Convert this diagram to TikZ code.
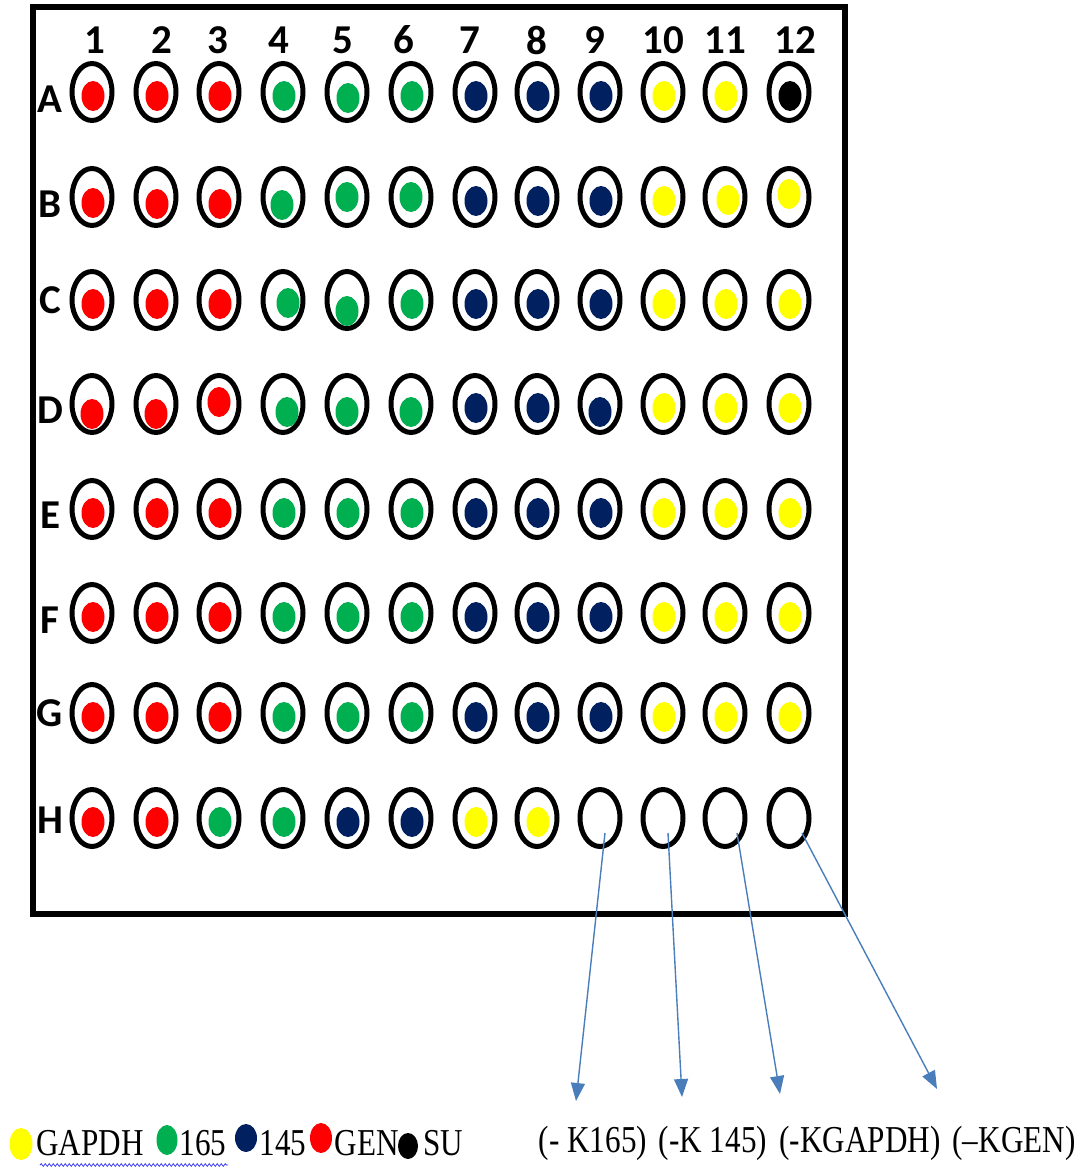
\documentclass[tikz,border=0pt]{standalone}
\usepackage{fontspec}
\setmainfont{Liberation Serif}
\newfontfamily\labfont{Carlito}
\usetikzlibrary{shapes.geometric,arrows.meta,calc,decorations.pathmorphing}
\definecolor{wred}{HTML}{FF0000}
\definecolor{wgrn}{HTML}{00B050}
\definecolor{wnav}{HTML}{002060}
\definecolor{wyel}{HTML}{FFFF00}
\definecolor{wblk}{HTML}{000000}
\definecolor{arrblue}{HTML}{4A7EBB}
\definecolor{squig}{HTML}{3A3AF0}
\newcommand\setoff[3]{\expandafter\def\csname ox#1\endcsname{#2}\expandafter\def\csname oy#1\endcsname{#3}}
\setoff{A5}{1}{6}\setoff{B1}{1}{6}\setoff{B2}{1}{7}\setoff{B3}{1}{7}\setoff{B4}{-1}{8}
\setoff{B5}{0}{0}\setoff{B6}{0}{0}\setoff{B11}{3}{3}\setoff{B12}{0}{-3}
\setoff{C4}{5}{3}\setoff{C5}{0}{11}\setoff{D1}{0}{10}\setoff{D2}{0}{10}\setoff{D3}{0}{-2}
\setoff{D4}{4}{8}\setoff{D5}{0}{8}\setoff{D6}{0}{8}\setoff{D9}{0}{8}
\newcommand\sq[1]{\scalebox{0.82}[1]{#1}}
\begin{document}
\begin{tikzpicture}[x=1pt,y=-1pt,
  ring/.style={ellipse,draw=black,line width=5pt,minimum width=40pt,minimum height=57pt,inner sep=0pt},
  dot/.style={ellipse,minimum width=23pt,minimum height=30pt,inner sep=0pt},
  collab/.style={font=\labfont\bfseries\fontsize{41}{41}\selectfont,inner sep=0pt},
  legtext/.style={font=\fontsize{38}{38}\selectfont,inner sep=0pt},
  arr/.style={draw=arrblue,line width=1.4pt,-{Triangle[length=18pt,width=14pt]}}]
\useasboundingbox (0,0) rectangle (1088,1171);
% frame
\draw[line width=6.5pt] (33,7) rectangle (845,914);
% column labels
\foreach \xx [count=\c] in {95,162,218,279,343,404,470,537,595,663,725,795}
  \node[collab] (col\c) at (\xx,40) {\c};
% rows
\foreach \r/\y/\ly/\cols in {
  A/92/99/{wred,wred,wred,wgrn,wgrn,wgrn,wnav,wnav,wnav,wyel,wyel,wblk},
  B/197/204/{wred,wred,wred,wgrn,wgrn,wgrn,wnav,wnav,wnav,wyel,wyel,wyel},
  C/300/300/{wred,wred,wred,wgrn,wgrn,wgrn,wnav,wnav,wnav,wyel,wyel,wyel},
  D/404/410/{wred,wred,wred,wgrn,wgrn,wgrn,wnav,wnav,wnav,wyel,wyel,wyel},
  E/509/515/{wred,wred,wred,wgrn,wgrn,wgrn,wnav,wnav,wnav,wyel,wyel,wyel},
  F/613/620/{wred,wred,wred,wgrn,wgrn,wgrn,wnav,wnav,wnav,wyel,wyel,wyel},
  G/713/713/{wred,wred,wred,wgrn,wgrn,wgrn,wnav,wnav,wnav,wyel,wyel,wyel},
  H/818/820/{wred,wred,wgrn,wgrn,wnav,wnav,wyel,wyel,none,none,none,none}} {
  \node[collab] (row\r) at (50,\ly) {\r};
  \foreach \colr [count=\c] in \cols {
    \pgfmathsetmacro\xx{{92,156,219,283,347,411,475,537,600,663,725,789}[\c-1]}
    \ifcsname ox\r\c\endcsname
      \edef\dx{\csname ox\r\c\endcsname}\edef\dy{\csname oy\r\c\endcsname}
    \else \def\dx{1}\def\dy{4}\fi
    \node[ring] (w\r\c) at (\xx,\y) {};
    \def\nonestr{none}\edef\tmp{\colr}
    \ifx\tmp\nonestr\else
      \node[dot,fill=\colr] (d\r\c) at (\xx+\dx,\y+\dy) {};
    \fi
  }
}
% arrows
\coordinate (s1) at ($(wH9.center)+(5,15)$);
\coordinate (s2) at ($(wH10.center)+(5,15)$);
\coordinate (s3) at ($(wH11.center)+(12,15)$);
\coordinate (s4) at ($(wH12.center)+(13,15)$);
\coordinate (t1) at (576,1101);
\coordinate (t2) at (682,1097);
\coordinate (t3) at (780,1094);
\coordinate (t4) at (937,1089);
\draw[arr] (s1) -- (t1);
\draw[arr] (s2) -- (t2);
\draw[arr] (s3) -- (t3);
\draw[arr] (s4) -- (t4);
% legend
\node[dot,fill=wyel,minimum width=23pt,minimum height=32pt] (ly) at (21,1144) {};
\node[legtext] (lgapdh) at (90,1143) {\sq{GAPDH}};
\node[dot,fill=wgrn,minimum width=21pt,minimum height=30pt] (lg) at (167,1140) {};
\node[legtext] (l165) at (203,1143) {\sq{165}};
\node[dot,fill=wnav,minimum width=22pt,minimum height=28pt] (ln) at (246,1138) {};
\node[legtext] (l145) at (283,1143) {\sq{145}};
\node[dot,fill=wred,minimum width=22pt,minimum height=30pt] (lr) at (321,1138) {};
\node[legtext] (lgen) at (367,1143) {\sq{GEN}};
\node[dot,fill=wblk,minimum width=20pt,minimum height=26pt] (lk) at (408,1146) {};
\node[legtext] (lsu) at (443,1143) {\sq{SU}};
\draw[squig,line width=0.8pt,decorate,decoration={snake,amplitude=1.3pt,segment length=4pt}] (40,1165) -- (228,1165);
% control labels
\node[legtext] (k1) at (593,1143) {\sq{(- K165)}};
\node[legtext] (k2) at (713,1143) {\sq{(-K 145)}};
\node[legtext] (k3) at (860,1143) {\sq{(-KGAPDH)}};
\node[legtext] (k4) at (1014,1143) {\sq{(–KGEN)}};
\end{tikzpicture}
\end{document}
